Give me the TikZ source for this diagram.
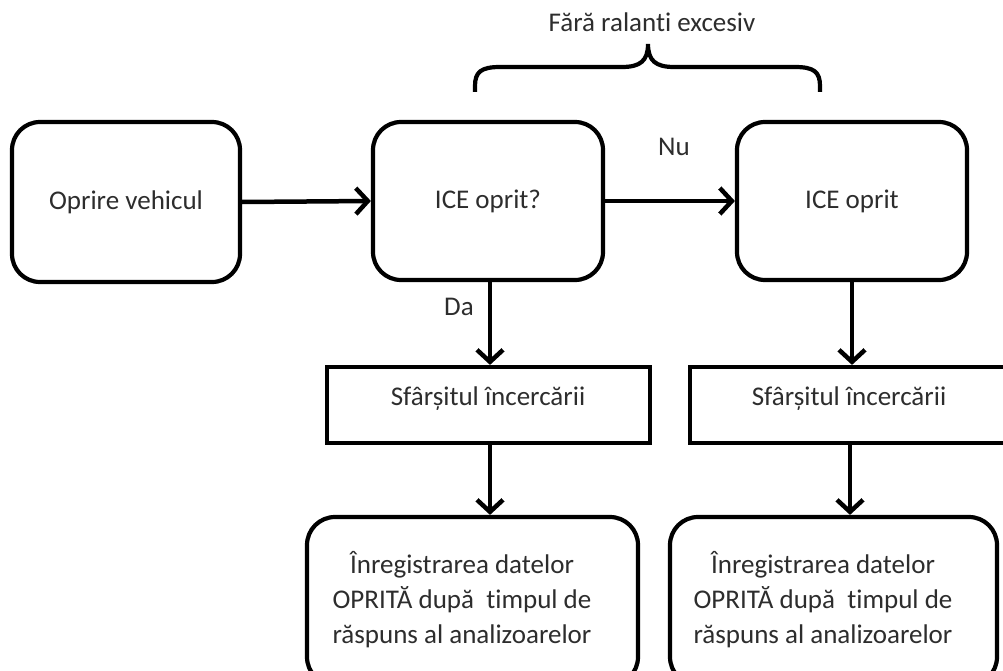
\documentclass[tikz,border=0pt]{standalone}
\usepackage{fontspec}
\setmainfont{Carlito}[Ligatures=NoCommon]
\usetikzlibrary{arrows.meta,calc}
\definecolor{txt}{RGB}{45,45,45}
\tikzset{
  every node/.style={font=\fontsize{27}{35}\selectfont, text=txt},
  rbox/.style={draw=black, line width=4.2pt, rounded corners=28pt, align=center, inner sep=0pt},
  sbox/.style={draw=black, line width=4.2pt, align=center, inner sep=0pt},
  flow/.style={line width=4.5pt, -{Straight Barb[length=12pt,width=26pt,line width=4.5pt]}},
  brace/.style={line width=4.2pt, line cap=butt},
  lbl/.style={inner sep=0pt}
}
\begin{document}
\begin{tikzpicture}[x=1pt,y=-1pt]
\useasboundingbox (0,0) rectangle (1003,671);
\clip (0,0) rectangle (1003,671);
\fill[white] (0,0) rectangle (1003,671);

% top row
\node[rbox, minimum width=228, minimum height=160] (stop) at (126,202) {Oprire vehicul};
\node[rbox, minimum width=230, minimum height=158] (q) at (488,201) {ICE oprit?};
\node[rbox, minimum width=230, minimum height=158] (off) at (852,201) {ICE oprit};

% end-of-test bars
\node[sbox, minimum width=323, minimum height=76] (end1) at (488.5,405) {};
\node[lbl] (end1t) at (488,399) {Sfârșitul încercării};
\node[sbox, minimum width=318, minimum height=76] (end2) at (849,405) {};
\node[lbl] (end2t) at (849,399) {Sfârșitul încercării};

% logging boxes
\node[rbox, minimum width=331, minimum height=168] (log1) at (472.5,601) {};
\node[lbl, align=center] (log1t) at (462,600) {Înregistrarea datelor\\OPRITĂ după \ timpul de\\răspuns al analizoarelor};
\node[rbox, minimum width=327, minimum height=168] (log2) at (833.5,601) {};
\node[lbl, align=center] (log2t) at (823,600) {Înregistrarea datelor\\OPRITĂ după \ timpul de\\răspuns al analizoarelor};

% connectors
\draw[flow] (stop.east) -- (q.west);
\draw[flow] (q.east) -- (off.west);
\draw[flow] ([xshift=2pt]q.south) -- ([xshift=2pt]q.south |- end1.north);
\draw[flow] ([xshift=2pt]q.south |- end1.south) -- ([xshift=2pt]q.south |- log1.north);
\draw[flow] (off.south) -- (off.south |- end2.north);
\draw[flow] ([xshift=-2pt]off.south |- end2.south) -- ([xshift=-2pt]off.south |- log2.north);

% branch labels
\node[lbl] (no) at (674,147) {Nu};
\node[lbl] (yes) at (459,307) {Da};

% brace over the no-branch
\draw[brace] (475,92) -- (475,86) .. controls (475,72) and (481,67) .. (500,67)
  -- (622,67) .. controls (640,67) and (648,61) .. (648,44)
  .. controls (648,61) and (656,67) .. (674,67)
  -- (795,67) .. controls (814,67) and (820,72) .. (820,86) -- (820,92);
\node[lbl] (idle) at (652,22) {Fără ralanti excesiv};
\end{tikzpicture}
\end{document}
